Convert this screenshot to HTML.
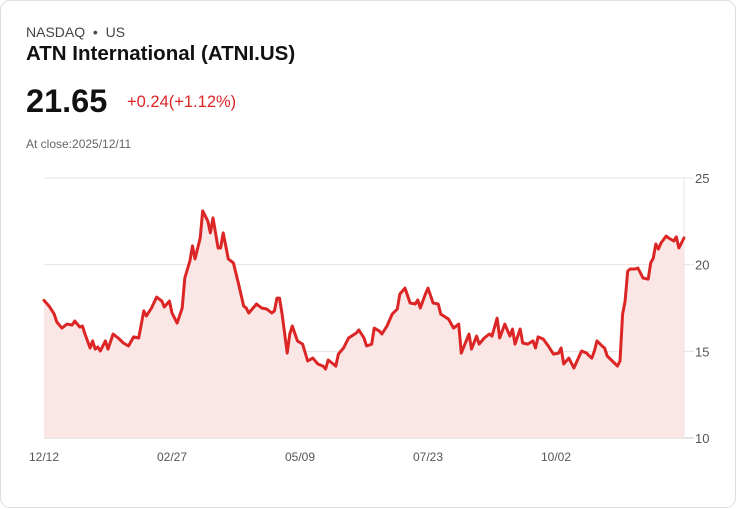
<!DOCTYPE html>
<html><head><meta charset="utf-8"><style>
body{margin:0;background:#fff;font-family:"Liberation Sans",sans-serif;}
.card{position:absolute;left:0;top:0;width:734px;height:506px;border:1px solid #dcdfe4;border-radius:10px;background:#fff;}
.t{position:absolute;white-space:nowrap;}
</style></head><body>
<div class="card">
<div class="t" style="left:25px;top:23px;font-size:14px;color:#444;">NASDAQ &nbsp;•&nbsp; US</div>
<div class="t" style="left:25px;top:41px;font-size:20.5px;font-weight:bold;color:#111;">ATN International (ATNI.US)</div>
<div class="t" style="left:25px;top:82px;font-size:32.5px;font-weight:bold;color:#111;">21.65</div>
<div class="t" style="left:126px;top:92px;font-size:16.5px;color:#dc2626;">+0.24(+1.12%)</div>
<div class="t" style="left:25px;top:136px;font-size:12px;color:#666;">At close:2025/12/11</div>
<svg id="chart" width="736" height="508" style="position:absolute;left:0;top:0;"></svg>
</div>
<script>
const days=[0,2,4,5,7,9,11,12,14,15,16,18,19,20,21,22,24,25,27,29,31,33,35,37,39,40,42,44,46,47,49,50,52,54,55,57,58,59,61,62,64,65,66,68,69,70,72,74,76,78,79,80,83,85,87,89,90,91,92,93,95,96,97,99,101,103,105,107,109,110,111,113,114,115,117,119,122,123,125,126,128,129,131,132,134,136,138,139,141,143,145,146,147,149,150,152,154,155,158,160,162,163,166,167,169,170,172,174,175,177,178,180,182,183,184,186,187,189,191,192,193,195,197,199,201,202,203,205,207,210,212,213,214,215,216,218,219,220,222,224,225,226,227,228,229,231,232,234,236,237,238,239,240,241,243,244,246,247,248,250];
const prices=[17.94,17.61,17.15,16.69,16.34,16.57,16.52,16.75,16.40,16.46,16.0,15.19,15.6,15.13,15.25,15.02,15.6,15.13,16.0,15.77,15.48,15.31,15.83,15.77,17.33,17.04,17.5,18.13,17.9,17.56,17.9,17.21,16.63,17.5,19.23,20.21,21.08,20.33,21.54,23.1,22.52,21.83,22.7,20.96,20.96,21.83,20.33,20.1,18.88,17.61,17.5,17.21,17.73,17.5,17.44,17.21,17.33,18.07,18.07,17.15,14.9,16.0,16.46,15.6,15.42,14.44,14.61,14.27,14.15,13.98,14.5,14.27,14.15,14.84,15.19,15.77,16.06,16.23,15.77,15.31,15.42,16.34,16.17,16.0,16.46,17.15,17.44,18.3,18.65,17.79,17.73,17.96,17.5,18.3,18.65,17.79,17.73,17.15,16.86,16.34,16.57,14.9,16.0,15.13,15.88,15.42,15.77,16.0,15.88,16.92,15.77,16.57,15.88,16.29,15.42,16.29,15.48,15.42,15.6,15.19,15.83,15.71,15.31,14.84,14.9,15.19,14.27,14.61,14.04,15.02,14.9,14.73,14.61,15.02,15.6,15.31,15.19,14.73,14.44,14.15,14.44,17.15,17.9,19.63,19.75,19.75,19.81,19.23,19.17,20.1,20.38,21.19,20.9,21.25,21.65,21.54,21.37,21.6,20.96,21.54,21.65];
const yTicks=[25,20,15,10];
const xLabels=["12/12","02/27","05/09","07/23","10/02"];
const xLabelDays=[0,50,100,150,200];
const NS="http://www.w3.org/2000/svg",svg=document.getElementById('chart');
const X0=43,X1=683,Y0=437,Y1=177,DMAX=250,VMIN=10,VMAX=25;
const xs=d=>X0+(d/DMAX)*(X1-X0), ys=v=>Y0-(v-VMIN)/(VMAX-VMIN)*(Y0-Y1);
function mk(tag,attrs){const e=document.createElementNS(NS,tag);for(const k in attrs)e.setAttribute(k,attrs[k]);svg.appendChild(e);return e;}
yTicks.forEach(v=>{
  const l=mk('line',{x1:X0,x2:X1+10,y1:ys(v),y2:ys(v),stroke:v===VMIN?'#c8c8c8':'#e4e4e4','stroke-width':1});
  
  
  const t=mk('text',{x:694,y:ys(v)+5,'font-size':13,fill:'#555','font-family':'Liberation Sans, sans-serif'});
  t.textContent=v;
  
  
});
const ax=mk('line',{x1:X1,x2:X1,y1:Y1,y2:Y0,stroke:'#e4e4e4','stroke-width':1});


xLabels.forEach((s,i)=>{
  const t=mk('text',{x:xs(xLabelDays[i]),y:460,'font-size':12,fill:'#555','text-anchor':'middle','font-family':'Liberation Sans, sans-serif'});
  t.textContent=s;
  
  
});
const pts=days.map((d,i)=>xs(d).toFixed(1)+','+ys(prices[i]).toFixed(1));
const area=mk('path',{d:'M'+xs(days[0])+','+Y0+' L'+pts.join(' L')+' L'+xs(days[days.length-1])+','+Y0+' Z',fill:'#fbe6e6'});


const line=mk('path',{d:'M'+pts.join(' L'),fill:'none',stroke:'#dc2626','stroke-width':3,'stroke-linejoin':'round','stroke-linecap':'round'});


</script>
</body></html>
